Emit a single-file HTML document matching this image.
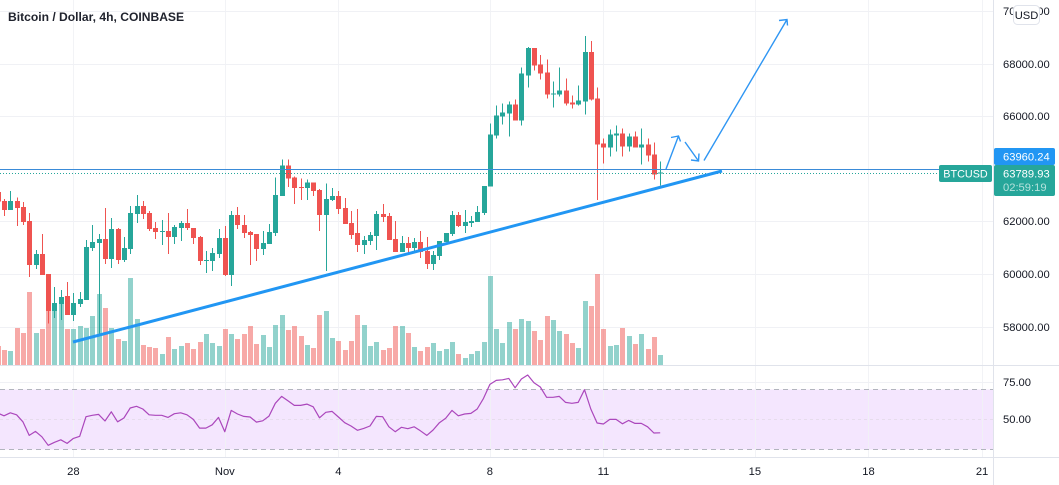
<!DOCTYPE html>
<html lang="en">
<head>
<meta charset="utf-8">
<title>Bitcoin / Dollar, 4h, COINBASE</title>
<style>
html,body{margin:0;padding:0;background:#fff;width:1059px;height:485px;overflow:hidden}
svg{display:block;font-family:"Liberation Sans",sans-serif}
text{fill:#131722;font-size:11.2px}
</style>
</head>
<body>
<svg id="chart" width="1059" height="485" viewBox="0 0 1059 485" xmlns="http://www.w3.org/2000/svg">
  <g id="grid"></g>
  <rect x="0" y="389.5" width="993" height="60" fill="#f4e6fe"></rect>
  <g id="gridV"></g>
  <line x1="0" x2="993" y1="389.5" y2="389.5" stroke="#b2b5be" stroke-dasharray="5 4"></line>
  <line x1="0" x2="993" y1="419.5" y2="419.5" stroke="#e6dcec" stroke-dasharray="3 3"></line>
  <line x1="0" x2="993" y1="449.5" y2="449.5" stroke="#b2b5be" stroke-dasharray="5 4"></line>
  <g id="volume" shape-rendering="crispEdges"></g>
  <g id="candles" shape-rendering="crispEdges"></g>
  <polyline id="rsiLine" fill="none" stroke="#ab47bc" stroke-width="1.2" stroke-linejoin="round"></polyline>
  <line id="bidLine" x1="0" x2="940" stroke="#3a8bd8" stroke-width="1" shape-rendering="crispEdges"></line>
  <line id="lastLine" x1="0" x2="940" stroke="#26a69a" stroke-width="1" stroke-dasharray="1 2" shape-rendering="crispEdges"></line>
  <line x1="73" y1="342" x2="722" y2="171" stroke="#2196f3" stroke-width="3"></line>
  <g fill="none" stroke="#2f96f3" stroke-width="1.4">
    <path d="M666 169L678.5 136M671 137.5L678.5 136L680.5 141.5"></path>
  </g>
  <g fill="none" stroke="#2f96f3" stroke-width="1.4">
    <path d="M685 142L698.5 161M691 160L698.5 161L699 153.5"></path>
  </g>
  <g fill="none" stroke="#2f96f3" stroke-width="1.4">
    <path d="M704 160.500L787 19.500M779 20.500L787 19.500L787.500 25.500"></path>
  </g>
  <g id="border" shape-rendering="crispEdges">
    <line x1="993.5" x2="993.5" y1="0" y2="485" stroke="#e0e3eb"></line>
    <line x1="0" x2="1059" y1="365.500" y2="365.500" stroke="#e0e3eb"></line>
    <line x1="0" x2="1059" y1="457.500" y2="457.500" stroke="#e0e3eb"></line>
  </g>
  <g id="priceTicks"></g>
  <g id="rsiTicks"></g>
  <g id="timeTicks"></g>
  <text x="8" y="21" style="font-size:12.1px;font-weight:700;fill:#20232e">Bitcoin / Dollar, 4h, COINBASE</text>
  <g>
    <rect x="1013.500" y="5.500" width="26" height="19" rx="4" fill="#fff" stroke="#e0e3eb"></rect>
    <text x="1026.500" y="19" text-anchor="middle">USD</text>
  </g>
  <rect x="939" y="165" width="53" height="17" rx="2" fill="#26a69a"></rect>
  <text x="965.500" y="177.500" text-anchor="middle" style="fill:#fff;font-size:10.8px">BTCUSD</text>
  <rect x="994" y="148" width="61" height="17" rx="2" fill="#2196f3"></rect>
  <text x="1003" y="160.500" style="fill:#fff">63960.24</text>
  <rect x="994" y="165" width="61" height="31" rx="2" fill="#26a69a"></rect>
  <text x="1003" y="177.500" style="fill:#fff">63789.93</text>
  <text x="1003" y="191" style="fill:#b5e2dc">02:59:19</text>
</svg>
<script>
const open = [63126,62783,62439,62783,62554,62020,60341,60760,59997,58585,58853,59158,58432,58853,59005,60989,61180,61333,60570,61714,60531,60951,62287,62592,62325,61753,61600,61638,61409,61753,61943,61753,61409,60493,60493,60760,61371,59959,62249,61867,61600,61524,60951,61142,61562,62974,64118,63661,63317,63279,63470,63203,62249,62821,62974,62516,61943,61562,61104,61256,61447,62287,62210,61333,60837,61180,60989,61218,60875,60379,60684,61218,61524,62249,61829,61943,61981,62325,63319,65265,65990,66105,66448,65837,67555,68585,67974,67669,66830,66830,66982,66524,66448,66562,68432,66677,64960,64807,65265,65341,64845,65227,64807,64922,64540,63815];
const high = [63139,62859,63164,62910,62745,62325,60913,61524,59997,59501,59387,59692,59272,59310,61295,61867,61524,62516,62134,61753,61409,62592,63012,62783,62401,61981,62058,62325,61867,62020,62478,61753,61447,60875,60989,61714,61829,62401,62554,62249,61638,61524,61638,61905,63661,64347,64347,63699,63622,63584,63470,63241,63432,63279,63164,62897,62401,62478,61447,61600,62401,62668,62325,62020,61447,61409,61371,61638,61409,60875,61256,61562,62401,62363,62439,62210,62592,63355,65723,66410,66486,66562,66639,67860,68623,68585,68318,68165,67326,67860,67440,66791,67173,69043,68852,67097,65151,65494,65647,65532,65341,65418,65532,65151,64998,64273];
const low = [62757,62210,62439,61829,61867,59883,60188,59959,58127,58318,58242,58432,58204,58738,59005,60875,57669,60379,60226,60379,60455,60760,61943,62096,61638,61333,61104,60760,61142,61256,61676,61142,60341,60035,60112,60608,59921,59539,61714,61371,60341,60493,60722,61142,61447,62974,63317,62668,62821,62821,62974,61638,60112,62783,62287,61905,61333,60837,60760,61104,60913,61981,61295,60837,60837,60799,60875,60608,60188,60150,60531,61218,61447,61791,61562,61791,61981,62249,63319,65151,65685,65227,65837,65647,67097,67745,67402,66677,66334,66753,66410,66295,66410,66066,66601,62823,64197,64464,64654,64464,64654,64807,64158,64273,63586,63357];
const close = [62757,62439,62783,62516,61981,60341,60760,59959,58585,58891,59120,58432,58891,59043,61028,61218,61333,60570,61714,60531,60989,62325,62592,62287,61714,61600,61638,61409,61791,61943,61753,61371,60493,60531,60799,61371,59959,62249,61867,61562,61485,60951,61180,61600,63012,64118,63622,63279,63279,63470,63164,62249,62859,62974,62478,61905,61485,61104,61295,61485,62287,62172,61295,60837,61180,60989,61218,60837,60379,60722,61256,61562,62249,61829,61981,62020,62363,63355,65303,66028,66143,66448,65837,67631,68585,67936,67631,66830,66868,66982,66486,66448,66601,68432,66639,64922,64807,65303,65341,64845,65227,64807,64922,64502,63777,63853];
const volume = [57,45,42,111,96,219,96,108,162,175,189,108,108,117,111,147,213,171,111,78,72,261,138,60,54,51,33,84,48,57,66,48,69,93,66,57,108,93,78,93,117,63,90,54,120,150,105,117,87,60,51,150,162,81,72,45,72,150,120,57,69,45,51,117,117,96,54,42,54,66,42,48,69,33,21,33,42,69,267,108,66,129,108,138,132,102,75,147,135,102,93,66,51,192,177,273,108,57,60,111,87,63,93,48,84,30];
const rsi = [54.2,52.4,54.4,53.1,48.4,39.3,42.0,38.4,32.7,34.7,36.4,34.0,37.3,38.7,51.8,52.7,53.3,48.9,55.1,48.4,50.9,57.6,58.7,56.9,53.1,52.7,52.7,51.3,53.8,54.4,53.1,50,44.2,44.2,46.4,51.3,41.8,56,53.6,52,51.6,48.2,49.1,52.2,60.7,65.3,62.4,59.3,59.3,60.2,58.4,51.1,54.7,55.3,51.6,47.8,45.6,42.7,44,45.6,52,51.8,45.1,41.8,44.7,43.8,45.1,42.4,39.3,42.9,47.8,50.7,56,52.4,53.6,54,56.9,64,73.3,76,76.4,77.3,71.1,76.9,79.6,74.4,71.6,64.7,64.7,65.3,61.3,60.7,61.3,69.8,56.9,47.6,46.9,50,50,47.1,49.3,47.3,47.3,45.1,40.9,41.1];
const priceTickValues = [70000,68000,66000,62000,60000,58000];
const rsiTickValues = [75,50];
const timeTickBars = [12,36,54,78,96,120,138,156];
const timeTickLabels = ["28","Nov","4","8","11","15","18","21"];
const highPrice = 63960.24;
const lastPrice = 63789.93;

const NS = 'http://www.w3.org/2000/svg';
function xScale(i){ return 73.4 + 6.31 * (i - 12); }
function yPrice(p){ return 221.4 - (p - 62000) * 0.0263; }
function yVolume(v){ return 365 - v / 3; }
function yRsi(r){ return 419.4 - (r - 50) * 1.5; }
function make(tag, attrs, parent){
  const el = document.createElementNS(NS, tag);
  for (const k in attrs) el.setAttribute(k, attrs[k]);
  parent.appendChild(el);
  return el;
}
const gridG = document.getElementById('grid');
const gridV = document.getElementById('gridV');
const volG = document.getElementById('volume');
const candleG = document.getElementById('candles');
const priceG = document.getElementById('priceTicks');
const rsiG = document.getElementById('rsiTicks');
const timeG = document.getElementById('timeTicks');
const GRID = '#f0f1f5';

priceTickValues.forEach(function(p){
  const y = Math.round(yPrice(p)) + 0.5;
  const g = make('line', {x1:0, x2:993, y1:y, y2:y, stroke:GRID}, gridG);
  
  
  const t = make('text', {x:1003, y:Math.round(yPrice(p)) + 4}, priceG);
  t.textContent = p.toFixed(2);
  
  
});
rsiTickValues.forEach(function(r){
  const y = Math.round(yRsi(r)) + 0.5;
  if (r === 75) {
    const g = make('line', {x1:0, x2:993, y1:y, y2:y, stroke:GRID}, gridG);
    
    
  }
  const t = make('text', {x:1003, y:Math.round(yRsi(r)) + 4}, rsiG);
  t.textContent = r.toFixed(2);
  
  
});
timeTickBars.forEach(function(b, n){
  const x = Math.round(xScale(b)) + 0.5;
  const g = make('line', {x1:x, x2:x, y1:0, y2:457, stroke:GRID, 'stroke-opacity':0.85}, gridV);
  
  
  const t = make('text', {x:xScale(b), y:475, 'text-anchor':'middle'}, timeG);
  t.textContent = timeTickLabels[n];
  
  
});

volume.forEach(function(v, i){
  const up = close[i] >= open[i];
  const xc = Math.round(xScale(i));
  const y = yVolume(v);
  const b = make('rect', {x:xc - 2, y:y, width:5, height:365 - y, fill: up ? 'rgba(38,166,154,0.5)' : 'rgba(239,83,80,0.5)'}, volG);
  
  
});

open.forEach(function(o, i){
  const c = close[i];
  const up = c >= o;
  const col = up ? '#26a69a' : '#ef5350';
  const xc = Math.round(xScale(i));
  const yH = yPrice(high[i]);
  const yL = yPrice(low[i]);
  const yTop = yPrice(Math.max(o, c));
  const yBot = yPrice(Math.min(o, c));
  const w = make('rect', {x:xc, y:yH, width:1, height:Math.max(1, yL - yH), fill:col}, candleG);
  
  
  const r = make('rect', {x:xc - 2, y:yTop, width:5, height:Math.max(1, yBot - yTop), fill:col}, candleG);
  
  
});

document.getElementById('rsiLine').setAttribute('points', rsi.map(function(r, i){
  return xScale(i).toFixed(1) + ',' + yRsi(r).toFixed(1);
}).join(' '));

const bid = document.getElementById('bidLine');
bid.setAttribute('y1', Math.round(yPrice(highPrice)) - 0.5);
bid.setAttribute('y2', Math.round(yPrice(highPrice)) - 0.5);
const last = document.getElementById('lastLine');
last.setAttribute('y1', Math.round(yPrice(lastPrice)) - 0.5);
last.setAttribute('y2', Math.round(yPrice(lastPrice)) - 0.5);
</script>
</body>
</html>
